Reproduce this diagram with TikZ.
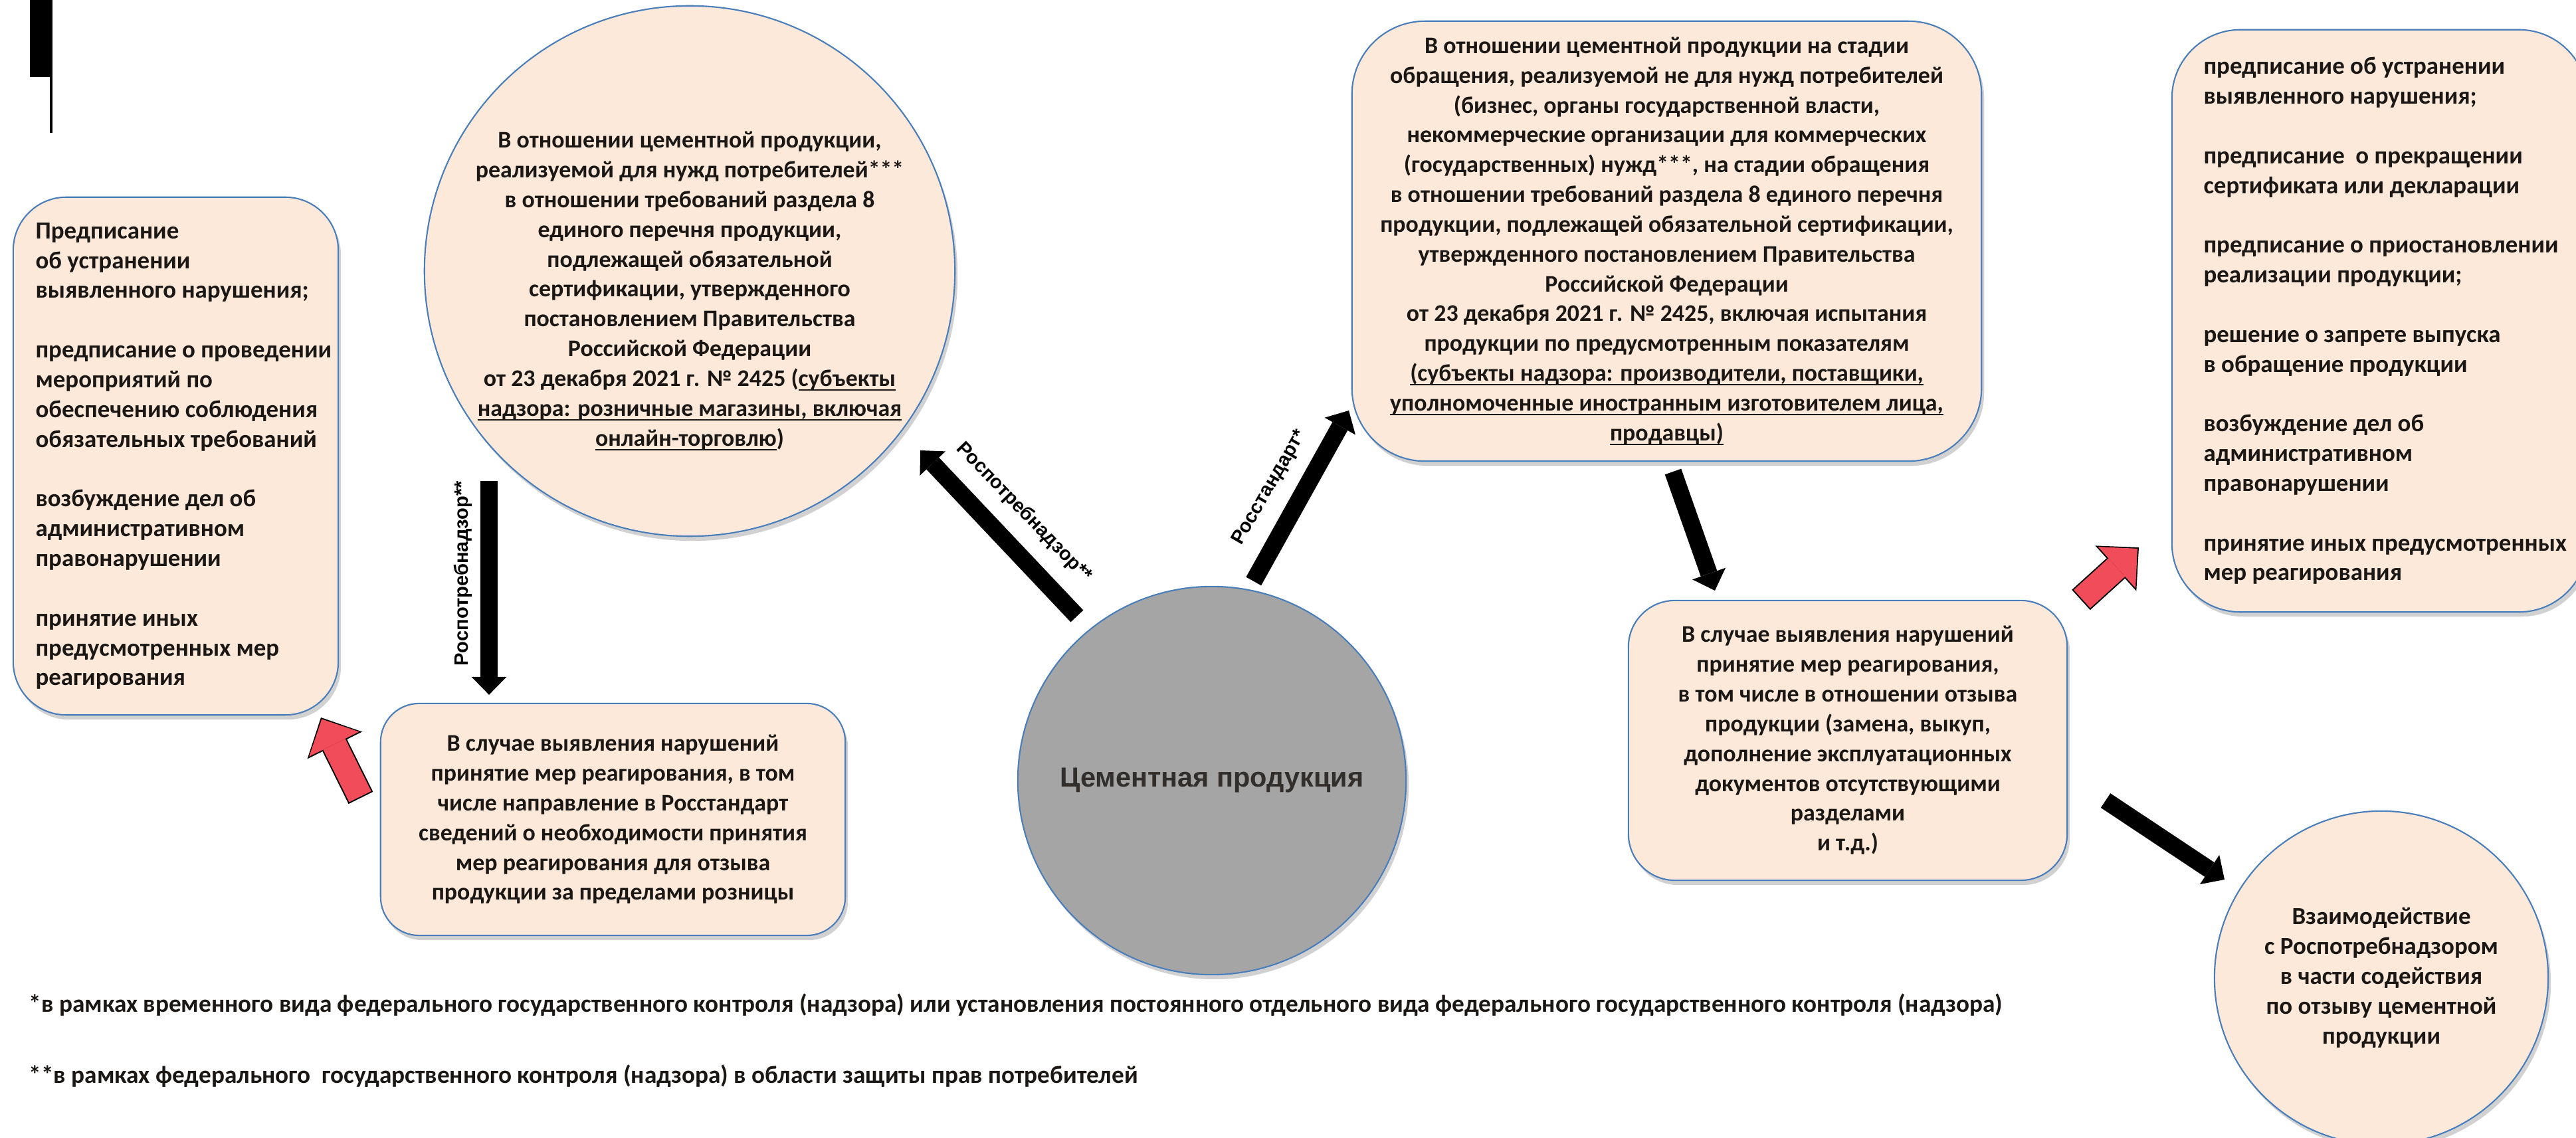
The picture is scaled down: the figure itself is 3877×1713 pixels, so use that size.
\documentclass[tikz,border=0pt]{standalone}
\usepackage{fontspec}
\setmainfont{Carlito}
\newfontfamily\afam{Liberation Sans}
\usetikzlibrary{arrows.meta,shadows,calc}

\definecolor{peach}{HTML}{FCE9DA}
\definecolor{edgeblue}{HTML}{4A7EBB}
\definecolor{cgray}{HTML}{A5A5A5}
\definecolor{arrred}{HTML}{F04C5A}
\definecolor{ink}{HTML}{1A1714}

\newcommand\boxsize{\bfseries\fontsize{10.2}{12.75}\selectfont}
\newcommand\listsize{\bfseries\fontsize{10.5}{12.75}\selectfont}
\newcommand\labsize{\afam\bfseries\fontsize{8.3}{10}\selectfont}
\newcommand\coresize{\afam\bfseries\fontsize{11.8}{14}\selectfont}
\newcommand\notesize{\bfseries\fontsize{10.6}{12}\selectfont}
% underline that runs through the descenders
\newcommand\uln[1]{\setbox0\hbox{#1}\rlap{\rule[-1.9pt]{\wd0}{0.55pt}}\box0}

\begin{document}
\begin{tikzpicture}[x=0.01cm,y=-0.01cm,
    pbox/.style={draw=edgeblue, line width=0.6pt, fill=peach, text=ink,
      drop shadow={shadow xshift=0.04cm, shadow yshift=-0.07cm, opacity=0.3, fill=black!60}},
    rbox/.style={pbox, rectangle, rounded corners=#1, inner sep=0pt},
    cbox/.style={pbox, circle, inner sep=0pt},
    boxtext/.style={font=\boxsize, align=center, text=ink},
    listtext/.style={font=\listsize, align=left, text=ink, inner sep=0pt},
    arlab/.style={font=\labsize, inner sep=0pt},
    blkarrow/.style={line width=0.26cm, -{Triangle[width=0.53cm,length=0.27cm,line width=0pt]}},
    redunder/.style={line width=0.41cm, -{Triangle[width=0.92cm,length=0.468cm,line width=0pt]}},
    redover/.style={arrred, line width=0.37cm, shorten <=0.02cm, shorten >=0.028cm,
      -{Triangle[width=0.84cm,length=0.42cm,line width=0pt]}}]
  \useasboundingbox (0,0) rectangle (3877,1713);

  % mark in the top left corner
  \fill (45,0) rectangle (79,116);
  \fill (75,116) rectangle (79,200);

  % left list of measures
  \node[rbox=0.8cm, minimum width=4.89cm, minimum height=7.79cm] (leftbox) at (264.5,686.5) {};
  \node[listtext, anchor=west] (leftlist) at ([xshift=0.34cm]leftbox.west) {%
    Предписание\\ об устранении\\ выявленного нарушения;\\[12.75pt]
    предписание о проведении\\ мероприятий по\\ обеспечению соблюдения\\ обязательных требований\\[12.75pt]
    возбуждение дел об\\ административном\\ правонарушении\\[12.75pt]
    принятие иных\\ предусмотренных мер\\ реагирования};

  % consumer goods circle
  \node[cbox, minimum size=7.98cm] (bigc) at (1038,408) {};
  \node[boxtext, inner sep=0pt] (bigtext) at (1038,438) {%
    В отношении цементной продукции,\\
    реализуемой для нужд потребителей***\\
    в отношении требований раздела 8\\
    единого перечня продукции,\\
    подлежащей обязательной\\
    сертификации, утвержденного\\
    постановлением Правительства\\
    Российской Федерации\\
    от 23 декабря 2021 г. № 2425 (\uln{субъекты}\\
    \uln{надзора: розничные магазины, включая}\\
    \uln{онлайн-торговлю})};

  % retail measures
  \node[rbox=0.58cm, boxtext, minimum width=6.99cm, minimum height=3.49cm] (box2) at (922.5,1233.5) {%
    В случае выявления нарушений\\
    принятие мер реагирования, в том\\
    числе направление в Росстандарт\\
    сведений о необходимости принятия\\
    мер реагирования для отзыва\\
    продукции за пределами розницы};

  % centre
  \node[cbox, fill=cgray, minimum size=5.84cm, font=\coresize, text=ink!90] (grayc) at (1824,1175) {Цементная продукция};

  % business circulation box
  \node[rbox=1.1cm, boxtext, minimum width=9.47cm, minimum height=6.62cm] (rbox1) at (2508.5,363) {%
    В отношении цементной продукции на стадии\\
    обращения, реализуемой не для нужд потребителей\\
    (бизнес, органы государственной власти,\\
    некоммерческие организации для коммерческих\\
    (государственных) нужд***, на стадии обращения\\
    в отношении требований раздела 8 единого перечня\\
    продукции, подлежащей обязательной сертификации,\\
    утвержденного постановлением Правительства\\
    Российской Федерации\\
    от 23 декабря 2021 г. № 2425, включая испытания\\
    продукции по предусмотренным показателям\\
    \uln{(субъекты надзора: производители, поставщики,}\\
    \uln{уполномоченные иностранным изготовителем лица,}\\
    \uln{продавцы)}};

  \node[rbox=0.7cm, boxtext, minimum width=6.60cm, minimum height=4.21cm] (box3) at (2781,1114.5) {%
    В случае выявления нарушений\\
    принятие мер реагирования,\\
    в том числе в отношении отзыва\\
    продукции (замена, выкуп,\\
    дополнение эксплуатационных\\
    документов отсутствующими\\
    разделами\\
    и т.д.)};

  % right list of measures
  \node[rbox=1.03cm, minimum width=6.25cm, minimum height=8.76cm] (rbox2) at (3581.5,483) {};
  \node[listtext, anchor=west] (rightlist) at ([xshift=0.48cm]rbox2.west) {%
    предписание об устранении\\ выявленного нарушения;\\[12.75pt]
    предписание~ о прекращении\\ сертификата или декларации\\[12.75pt]
    предписание о приостановлении\\ реализации продукции;\\[12.75pt]
    решение о запрете выпуска\\ в обращение продукции\\[12.75pt]
    возбуждение дел об\\ административном\\ правонарушении\\[12.75pt]
    принятие иных предусмотренных\\ мер реагирования};

  \node[cbox, minimum size=5.02cm, font=\listsize, align=center] (box4) at (3584,1472) {%
    Взаимодействие\\ с Роспотребнадзором\\ в части содействия\\ по отзыву цементной\\ продукции};

  % black arrows
  \coordinate (rpnTop) at (736,724);
  \coordinate (rstTip) at (2030,618);
  \coordinate (dnS) at (2518,710);
  \coordinate (dnE) at (2581,889);
  \coordinate (lrS) at (3169,1205);
  \coordinate (lrE) at (3348,1324);
  \draw[blkarrow, shorten >=0.12cm] (rpnTop) -- (rpnTop |- box2.north);
  \draw[blkarrow, shorten <=0.27cm, shorten >=0.40cm] (grayc.129) -- (bigc.-37);
  \draw[blkarrow, shorten <=0.14cm] (grayc.79) -- (rstTip);
  \draw[blkarrow] (dnS) -- (dnE);
  \draw[blkarrow] (lrS) -- (lrE);

  \node[arlab, rotate=90] (lab1) at (697,863) {Роспотребнадзор**};
  \node[arlab, rotate=-46] (lab2) at (1541,771) {Роспотребнадзор**};
  \node[arlab, rotate=60] (lab3) at (1911,734) {Росстандарт*};

  % red arrows
  \coordinate (red1s) at (543,1201);
  \coordinate (red1e) at (483,1080);
  \coordinate (red2s) at (3132,903);
  \coordinate (red2e) at (3219,824);
  \draw[redunder] (red1s) -- (red1e);
  \draw[redover] (red1s) -- (red1e);
  \draw[redunder] (red2s) -- (red2e);
  \draw[redover] (red2s) -- (red2e);

  % footnotes
  \node[font=\notesize, text=ink, anchor=west, inner sep=0pt] (note1) at (43,1513)
    {*в рамках временного вида федерального государственного контроля (надзора) или установления постоянного отдельного вида федерального государственного контроля (надзора)};
  \node[font=\notesize, text=ink, anchor=west, inner sep=0pt] (note2) at (43,1620)
    {**в рамках федерального~ государственного контроля (надзора) в области защиты прав потребителей};
\end{tikzpicture}
\end{document}
